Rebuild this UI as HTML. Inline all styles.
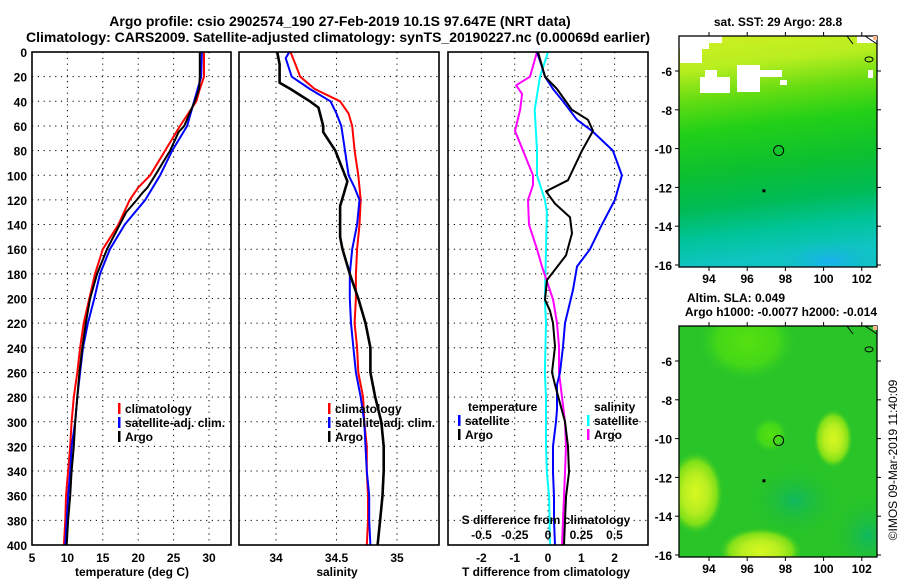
<!DOCTYPE html>
<html><head><meta charset="utf-8"><style>
html,body{margin:0;padding:0;background:#fff;}
svg{display:block;font-family:"Liberation Sans",sans-serif;font-weight:bold;}
</style></head><body>
<svg id="fig" width="900" height="580" viewBox="0 0 900 580" xmlns="http://www.w3.org/2000/svg">
<defs>
<linearGradient id="sstg" x1="0" y1="0" x2="0.1" y2="1">
<stop offset="0" stop-color="#d0f020"/>
<stop offset="0.15" stop-color="#b8ee20"/>
<stop offset="0.28" stop-color="#66dd12"/>
<stop offset="0.42" stop-color="#22d018"/>
<stop offset="0.6" stop-color="#0cc030"/>
<stop offset="0.75" stop-color="#00bb55"/>
<stop offset="0.88" stop-color="#00c49a"/>
<stop offset="1" stop-color="#10c4c4"/>
</linearGradient>
<radialGradient id="cy" cx="0.5" cy="0.5" r="0.5"><stop offset="0" stop-color="#1ab0f0"/><stop offset="1" stop-color="#10c0c0" stop-opacity="0"/></radialGradient>
<radialGradient id="yb" cx="0.5" cy="0.5" r="0.5"><stop offset="0" stop-color="#d8f820"/><stop offset="0.45" stop-color="#b8ee20"/><stop offset="0.75" stop-color="#80e018"/><stop offset="1" stop-color="#30c828" stop-opacity="0"/></radialGradient>
<radialGradient id="lg" cx="0.5" cy="0.5" r="0.5"><stop offset="0" stop-color="#55e010"/><stop offset="0.6" stop-color="#44d818"/><stop offset="1" stop-color="#30c828" stop-opacity="0"/></radialGradient>
<radialGradient id="dg" cx="0.5" cy="0.5" r="0.5"><stop offset="0" stop-color="#10b860"/><stop offset="1" stop-color="#22c030" stop-opacity="0"/></radialGradient>
<clipPath id="clip1"><rect x="679" y="36" width="198" height="231"/></clipPath>
<clipPath id="clip2"><rect x="679" y="326" width="198" height="231"/></clipPath>
</defs>
<g id="layer"></g>
</svg>
<script>
// ---- Data ----
const depthTicks = [0,20,40,60,80,100,120,140,160,180,200,220,240,260,280,300,320,340,360,380,400];
const tempTicks = [5,10,15,20,25,30];
const salTicks = [34,34.5,35];
const tdiffTicks = [-2,-1,0,1,2];
const sdiffTickLabels = ["-0.5","-0.25","0","0.25","0.5"];
const sdiffTicks = [-0.5,-0.25,0,0.25,0.5];

const tClimDepth = [0,20,30,40,60,80,100,110,120,140,160,180,200,220,240,260,280,300,320,340,360,380,400];
const tClim =      [29.3,29.3,28.7,28.2,25.9,23.8,21.7,20.0,18.8,17.2,15.0,13.9,13.1,12.3,11.8,11.4,10.9,10.6,10.4,10.1,9.8,9.7,9.5];
const tSatDepth = [0,20,40,60,80,100,120,140,160,180,200,220,240,260,280,300,320,340,360,380,400];
const tSat =      [29.0,28.9,27.9,26.9,24.8,23.1,21.0,18.1,16.0,14.6,13.8,12.9,12.2,11.8,11.4,11.1,10.6,10.4,10.1,9.9,9.7];
const tArgoDepth = [0,20,30,40,60,65,80,100,110,115,120,130,140,160,180,200,220,240,260,280,300,320,340,360,380,400];
const tArgo =      [28.7,28.7,28.6,28.0,26.5,25.7,24.5,22.4,21.3,20.5,19.8,18.3,17.4,15.6,14.2,13.2,12.6,12.1,11.7,11.4,11.1,10.9,10.6,10.4,10.1,9.9];

const sClimDepth = [0,10,20,30,40,50,60,80,100,120,140,160,180,200,220,240,260,280,300,320,340,360,380,400];
const sClim =      [34.12,34.16,34.20,34.32,34.53,34.60,34.63,34.65,34.68,34.70,34.69,34.67,34.66,34.66,34.65,34.67,34.68,34.72,34.73,34.75,34.75,34.76,34.76,34.75];
const sSatDepth = [0,5,20,30,40,50,60,80,100,110,120,140,160,180,200,220,240,260,280,300,320,340,360,380,400];
const sSat =      [34.11,34.08,34.13,34.28,34.45,34.50,34.54,34.57,34.60,34.65,34.69,34.67,34.63,34.61,34.61,34.62,34.64,34.66,34.70,34.73,34.74,34.75,34.77,34.77,34.78];
const sArgoDepth = [0,10,25,30,40,45,60,65,80,100,105,115,125,140,150,160,180,200,220,240,260,280,300,320,340,360,380,400];
const sArgo =      [34.01,34.03,34.03,34.12,34.28,34.35,34.39,34.39,34.49,34.57,34.59,34.56,34.53,34.53,34.53,34.55,34.61,34.68,34.74,34.78,34.78,34.82,34.87,34.89,34.89,34.88,34.86,34.84];

const dTSatDepth = [0,12,20,30,40,55,64,80,100,120,140,160,174,193,220,239,260,270,290,300,320,341,361,380,400];
const dTSat =      [-0.33,-0.18,-0.09,0.15,0.45,0.87,1.32,1.95,2.22,2.01,1.62,1.26,0.87,0.75,0.51,0.45,0.36,0.27,0.27,0.24,0.15,0.15,0.18,0.18,0.21];
const dTArgoDepth = [0,20,30,47,55,64,80,104,113,123,134,147,165,185,201,210,220,239,260,270,285,300,320,341,361,380,400];
const dTArgo =      [-0.30,-0.09,0.27,0.72,1.20,1.35,1.02,0.60,-0.06,0.21,0.66,0.72,0.54,-0.03,-0.09,0.06,0.15,0.21,0.12,0.21,0.36,0.51,0.60,0.63,0.54,0.51,0.48];
const dSSatDepth = [0,20,47,80,100,120,130,160,201,220,260,280,320,341,361,400];
const dSSat =      [0,-0.06,-0.10,-0.083,-0.083,-0.023,-0.008,-0.015,-0.023,-0.015,-0.023,-0.015,-0.015,-0.008,0.008,0.015];
const dSArgoDepth = [0,20,27,34,47,64,80,100,108,120,140,160,174,201,220,239,260,280,300,320,341,361,380,400];
const dSArgo =      [-0.083,-0.135,-0.24,-0.195,-0.21,-0.248,-0.188,-0.113,-0.113,-0.15,-0.143,-0.083,-0.045,0.038,0.068,0.083,0.083,0.105,0.128,0.135,0.128,0.12,0.113,0.105];

const lonTicks = [94,96,98,100,102];
const latTicks = [-6,-8,-10,-12,-14,-16];
const argoLon = 97.647, argoLat = -10.1;

// ---- helpers ----
const NS="http://www.w3.org/2000/svg";
const L=document.getElementById('layer');
function mk(tag,at,parent){const e=document.createElementNS(NS,tag);for(const k in at)e.setAttribute(k,at[k]);(parent||L).appendChild(e);return e;}
function txt(s,x,y,anchor,size,parent){const t=mk('text',{x:x,y:y,'text-anchor':anchor||'middle','font-size':size||12},parent);t.textContent=s;return t;}

const TOP=52,BOT=545;
const yD=d=>TOP+(BOT-TOP)*d/400;
const xT=v=>32+(v-5)*7.08;
const xS=v=>276+(v-34)*121;
const xDT=v=>548+v*33.3;
const xDS=v=>548+v*133;

function panel(name,x0,x1){
  const g=mk('g',{});
  
  
  depthTicks.forEach(d=>{ if(d>0&&d<400) mk('line',{x1:x0,x2:x1,y1:yD(d),y2:yD(d),stroke:'#000','stroke-width':1,'stroke-dasharray':'1.2 4.6'},g);});
  return g;
}
function frame(g,x0,x1){mk('rect',{x:x0,y:TOP,width:x1-x0,height:BOT-TOP,fill:'none',stroke:'#000','stroke-width':1.6},g);}
function series(g,name,depths,vals,xf,color,w){
  const pts=depths.map((d,i)=>xf(vals[i]).toFixed(1)+','+yD(d).toFixed(1)).join(' ');
  const p=mk('polyline',{points:pts,fill:'none',stroke:color,'stroke-width':w||2,'stroke-linejoin':'round'},g);
  
  
}
function legend(g,x,y,items){
  items.forEach((it,i)=>{
    mk('rect',{x:x,y:y+i*14-10,width:2.5,height:11,fill:it[1]},g);
    const t=txt(it[0],x+7,y+i*14,'start',12,g);
    
    
  });
}

// titles
const t1=txt('Argo profile: csio 2902574_190 27-Feb-2019 10.1S 97.647E (NRT data)',340,26,'middle',14);


const t2=txt('Climatology: CARS2009. Satellite-adjusted climatology: synTS_20190227.nc (0.00069d earlier)',338,42,'middle',14);



// depth tick labels
depthTicks.forEach(d=>{const t=txt(String(d),27,yD(d)+5,'end',12);});

// Panel 1 temperature
const g1=panel('temperature-panel',32,231);
tempTicks.forEach(v=>{ if(v>5) mk('line',{x1:xT(v),x2:xT(v),y1:TOP,y2:BOT,stroke:'#000','stroke-width':1,'stroke-dasharray':'1.2 4.6'},g1);
  const t=txt(String(v),xT(v),562,'middle',12,g1);});
series(g1,'temperature-climatology-line',tClimDepth,tClim,xT,'#f00');
series(g1,'temperature-satellite-line',tSatDepth,tSat,xT,'#00f');
series(g1,'temperature-argo-line',tArgoDepth,tArgo,xT,'#000');
frame(g1,32,231);
legend(g1,118,413,[['climatology','#f00','climatology'],['satellite-adj. clim.','#00f','satellite'],['Argo','#000','argo']]);
const xl1=txt('temperature (deg C)',132,576,'middle',12);

// Panel 2 salinity
const g2=panel('salinity-panel',239,439);
salTicks.forEach(v=>{ mk('line',{x1:xS(v),x2:xS(v),y1:TOP,y2:BOT,stroke:'#000','stroke-width':1,'stroke-dasharray':'1.2 4.6'},g2);
  const t=txt(String(v),xS(v),562,'middle',12,g2);});
series(g2,'salinity-climatology-line',sClimDepth,sClim,xS,'#f00');
series(g2,'salinity-satellite-line',sSatDepth,sSat,xS,'#00f');
series(g2,'salinity-argo-line',sArgoDepth,sArgo,xS,'#000',2.6);
frame(g2,239,439);
legend(g2,328,413,[['climatology','#f00','climatology'],['satellite-adj. clim.','#00f','satellite'],['Argo','#000','argo']]);
const xl2=txt('salinity',337,576,'middle',12);

// Panel 3 differences
const g3=panel('difference-panel',448,648);
tdiffTicks.forEach(v=>{ mk('line',{x1:xDT(v),x2:xDT(v),y1:TOP,y2:BOT,stroke:'#000','stroke-width':1,'stroke-dasharray':'1.2 4.6'},g3);
  const t=txt(String(v),xDT(v),562,'middle',12,g3);});
series(g3,'salinity-satellite-diff-line',dSSatDepth,dSSat,xDS,'#0ff');
series(g3,'salinity-argo-diff-line',dSArgoDepth,dSArgo,xDS,'#f0f');
series(g3,'temperature-satellite-diff-line',dTSatDepth,dTSat,xDT,'#00f');
series(g3,'temperature-argo-diff-line',dTArgoDepth,dTArgo,xDT,'#000');
frame(g3,448,648);
txt('temperature',468,411,'start',12,g3);
legend(g3,458,425,[['satellite','#00f','temp-satellite'],['Argo','#000','temp-argo']]);
txt('salinity',594,411,'start',12,g3);
legend(g3,587,425,[['satellite','#0ff','sal-satellite'],['Argo','#f0f','sal-argo']]);
const sdt=txt('S difference from climatology',546,524,'middle',12,g3);
sdiffTicks.forEach((v,i)=>{const t=txt(sdiffTickLabels[i],xDS(v),539,'middle',12,g3);});
const xl3=txt('T difference from climatology',546,576,'middle',12);

// ---- Maps ----
const MX0=679,MX1=877;
const xLon=v=>MX0+(v-92.43)*19.1;
function mapAxes(g,top,bot,yLat){
  lonTicks.forEach(v=>{
    mk('line',{x1:xLon(v),x2:xLon(v),y1:top,y2:top-4,stroke:'#000'},g);
    mk('line',{x1:xLon(v),x2:xLon(v),y1:bot,y2:bot+4,stroke:'#000'},g);
    const t=txt(String(v),xLon(v),bot+16,'middle',12,g);
  });
  latTicks.forEach(v=>{
    mk('line',{x1:MX0,x2:MX0-4,y1:yLat(v),y2:yLat(v),stroke:'#000'},g);
    mk('line',{x1:MX1,x2:MX1+4,y1:yLat(v),y2:yLat(v),stroke:'#000'},g);
    const t=txt(String(v),MX0-7,yLat(v)+5,'end',12,g);
  });
  mk('rect',{x:MX0,y:top,width:MX1-MX0,height:bot-top,fill:'none',stroke:'#000','stroke-width':1.3},g);
  mk('circle',{cx:xLon(argoLon),cy:yLat(argoLat),r:5,fill:'none',stroke:'#000','stroke-width':1},g);
  mk('rect',{x:xLon(96.85)-1,y:yLat(-12.15)-1,width:3,height:3,fill:'#000'},g);
  mk('path',{d:`M${MX1-12},${top} L${MX1},${top+8}`,stroke:'#000',fill:'none'},g);
  mk('rect',{x:MX1-4,y:top,width:4,height:4,fill:'#f7b58f'},g);
  mk('ellipse',{cx:MX1-8,cy:yLat(-5.4),rx:4,ry:2.5,fill:'none',stroke:'#000'},g);
  mk('path',{d:`M${MX1-30},${top} l6,8`,stroke:'#000',fill:'none'},g);
}
// Map 1 SST
const m1=mk('g',{});


const M1T=36,M1B=267; const yLat1=v=>71+(-6-v)*19.4;
const m1c=mk('g',{'clip-path':'url(#clip1)'},m1);
mk('rect',{x:MX0,y:M1T,width:MX1-MX0,height:M1B-M1T,fill:'url(#sstg)'},m1c);
mk('ellipse',{cx:xLon(100.3),cy:yLat1(-15.8),rx:55,ry:22,fill:'url(#cy)'},m1c);
[[679,36,43,7],[679,36,30,13],[680,48,22,15],[700,77,30,16],[705,70,12,10],[737,65,23,27],[760,70,22,7],[857,36,20,7],[868,70,5,8],[780,80,7,5]].forEach(r=>{
  mk('rect',{x:r[0],y:r[1],width:r[2],height:r[3],fill:'#fff'},m1c);
});
mapAxes(m1,M1T,M1B,yLat1);
const mt1=txt('sat. SST: 29 Argo: 28.8',778,26,'middle',12);

// Map 2 SLA
const m2=mk('g',{});


const M2T=326,M2B=557; const yLat2=v=>361+(-6-v)*19.4;
const m2c=mk('g',{'clip-path':'url(#clip2)'},m2);
mk('rect',{x:MX0,y:M2T,width:MX1-MX0,height:M2B-M2T,fill:'#28c428'},m2c);
mk('ellipse',{cx:xLon(96),cy:yLat2(-5),rx:50,ry:40,fill:'url(#lg)'},m2c);
mk('ellipse',{cx:xLon(98.5),cy:yLat2(-13.2),rx:45,ry:35,fill:'url(#dg)'},m2c);
mk('ellipse',{cx:xLon(102.3),cy:yLat2(-15),rx:35,ry:40,fill:'url(#dg)'},m2c);
mk('ellipse',{cx:xLon(97.2),cy:yLat2(-9.8),rx:18,ry:18,fill:'url(#lg)'},m2c);
mk('ellipse',{cx:xLon(100.5),cy:yLat2(-10),rx:20,ry:30,fill:'url(#yb)'},m2c);
mk('ellipse',{cx:xLon(93.3),cy:yLat2(-12.8),rx:28,ry:42,fill:'url(#yb)'},m2c);
mk('ellipse',{cx:xLon(96.7),cy:yLat2(-15.8),rx:42,ry:24,fill:'url(#yb)'},m2c);
mapAxes(m2,M2T,M2B,yLat2);
const mt2=txt('Altim. SLA: 0.049',736,302,'middle',12);
const mt3=txt('Argo h1000: -0.0077 h2000: -0.014',877,316,'end',12);

const cr=txt('©IMOS 09-Mar-2019 11:40:09',0,0,'middle',12);
cr.setAttribute('transform','translate(897,460) rotate(-90)');
cr.setAttribute('font-weight','normal');


</script>
</body></html>
